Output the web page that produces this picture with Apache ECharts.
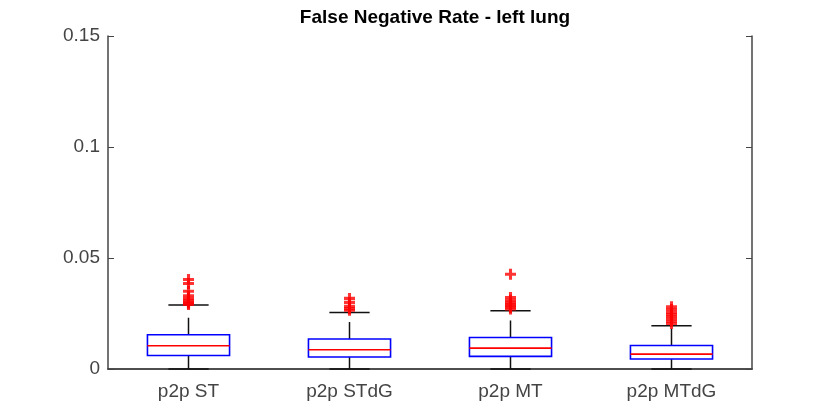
<!DOCTYPE html>
<html>
<head>
<meta charset="utf-8">
<script src="https://cdn.jsdelivr.net/npm/echarts@6/dist/echarts.min.js"></script>
<style>
  html, body { margin: 0; padding: 0; background: #fff; }
  #main { width: 830px; height: 416px; }
</style>
</head>
<body>
<div id="main"></div>
<script>
// categories and box statistics: [lowWhisker, q1, median, q3, highWhisker]
var categories = ['p2p ST', 'p2p STdG', 'p2p MT', 'p2p MTdG'];
var boxStats = [
    [0, 0.0061, 0.0105, 0.0154, 0.0288],
    [0, 0.0054, 0.0087, 0.0135, 0.0254],
    [0, 0.0057, 0.0094, 0.0142, 0.0262],
    [0, 0.0045, 0.0067, 0.0106, 0.0195]
];
// outliers per category
var outliers = [
    [0.0403, 0.0385, 0.0350, 0.0330, 0.0318, 0.0310, 0.0302, 0.0296, 0.0291],
    [0.0318, 0.0300, 0.0282, 0.0272, 0.0265],
    [0.0427, 0.0322, 0.0310, 0.0300, 0.0292, 0.0285, 0.0278, 0.0270],
    [0.0280, 0.0268, 0.0255, 0.0245, 0.0235, 0.0225, 0.0215, 0.0205]
];
var yTicks = { min: 0, max: 0.15, interval: 0.05 };

var boxData = boxStats.map(function (s, i) { return [i].concat(s); });
var outlierData = [];
outliers.forEach(function (list, i) {
    list.forEach(function (v) { outlierData.push([i, v]); });
});

var myChart = echarts.init(document.getElementById('main'));

var axisColor = '#444';
var labelFont = { color: '#444', fontSize: 19, fontFamily: 'Liberation Sans, Arial, sans-serif' };

// one box: dashed whiskers, caps, blue box, red median
function renderBox(params, api) {
    var idx = api.value(0);
    var x = api.coord([idx, 0])[0];
    var band = api.size([1, 0])[0];
    var halfBox = band * 0.255;
    var halfCap = band * 0.125;
    var yLow = api.coord([idx, api.value(1)])[1];
    var yQ1 = api.coord([idx, api.value(2)])[1];
    var yMed = api.coord([idx, api.value(3)])[1];
    var yQ3 = api.coord([idx, api.value(4)])[1];
    var yHigh = api.coord([idx, api.value(5)])[1];
    var whisk = { stroke: '#111', lineWidth: 1.5, lineDash: [17, 11] };
    var cap = { stroke: '#111', lineWidth: 1.5 };
    return {
        type: 'group',
        children: [
            { type: 'line', shape: { x1: x, y1: yQ3, x2: x, y2: yHigh }, style: whisk },
            { type: 'line', shape: { x1: x, y1: yQ1, x2: x, y2: yLow }, style: whisk },
            { type: 'line', shape: { x1: x - halfCap, y1: yHigh, x2: x + halfCap, y2: yHigh }, style: cap },
            { type: 'line', shape: { x1: x - halfCap, y1: yLow, x2: x + halfCap, y2: yLow }, style: cap },
            { type: 'rect', shape: { x: x - halfBox, y: yQ3, width: halfBox * 2, height: yQ1 - yQ3 },
              style: { fill: 'none', stroke: '#0000ff', lineWidth: 1.6 } },
            { type: 'line', shape: { x1: x - halfBox, y1: yMed, x2: x + halfBox, y2: yMed },
              style: { stroke: '#ff0000', lineWidth: 1.6 } }
        ]
    };
}

var option = {
    animation: false,
    title: {
        text: 'False Negative Rate - left lung',
        left: 430,
        top: 3,
        textAlign: 'center',
        textStyle: { color: '#000', fontSize: 19, fontWeight: 'bold', fontFamily: 'Liberation Sans, Arial, sans-serif' }
    },
    grid: { left: 108, right: 78, top: 36, bottom: 47 },
    xAxis: [{
        type: 'category',
        data: categories,
        boundaryGap: true,
        axisLine: { lineStyle: { color: axisColor, width: 1.5 } },
        axisTick: { inside: true, alignWithLabel: true, length: 6, lineStyle: { color: axisColor } },
        axisLabel: Object.assign({ margin: 13 }, labelFont),
        splitLine: { show: false }
    }, {
        type: 'category',
        position: 'top',
        data: categories,
        boundaryGap: true,
        axisLine: { lineStyle: { color: axisColor, width: 1.5 } },
        axisTick: { inside: true, alignWithLabel: true, length: 6, lineStyle: { color: axisColor } },
        axisLabel: { show: false },
        splitLine: { show: false }
    }],
    yAxis: [{
        type: 'value',
        min: yTicks.min,
        max: yTicks.max,
        interval: yTicks.interval,
        axisLine: { show: true, lineStyle: { color: axisColor, width: 1.5 } },
        axisTick: { show: true, inside: true, length: 6, lineStyle: { color: axisColor } },
        axisLabel: Object.assign({ margin: 8 }, labelFont),
        splitLine: { show: false }
    }, {
        type: 'value',
        position: 'right',
        min: yTicks.min,
        max: yTicks.max,
        interval: yTicks.interval,
        axisLine: { show: true, lineStyle: { color: axisColor, width: 1.5 } },
        axisTick: { show: true, inside: true, length: 6, lineStyle: { color: axisColor } },
        axisLabel: { show: false },
        splitLine: { show: false }
    }],
    series: [{
        type: 'custom',
        renderItem: renderBox,
        encode: { x: 0, y: [1, 2, 3, 4, 5] },
        data: boxData,
        z: 2
    }, {
        type: 'scatter',
        data: outlierData,
        symbol: 'path://M3.6,0H6.4V3.6H10V6.4H6.4V10H3.6V6.4H0V3.6H3.6Z',
        symbolSize: 11,
        itemStyle: { color: '#ff0000' },
        z: 3
    }]
};

myChart.setOption(option);
</script>
</body>
</html>
